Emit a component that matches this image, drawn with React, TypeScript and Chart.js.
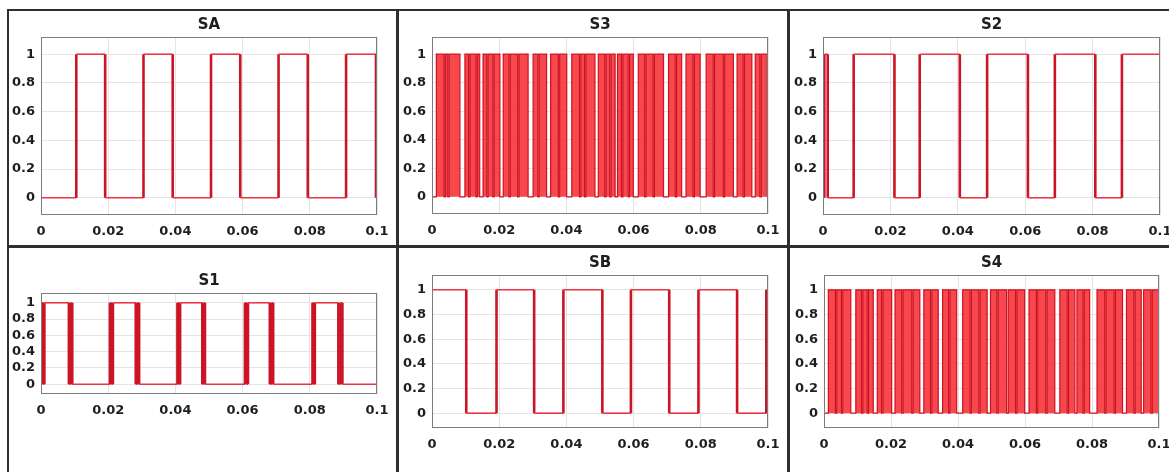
import React, { useEffect, useRef } from "react";
import { Chart, registerables } from "chart.js";

Chart.register(...registerables);

// ---------- axis data ----------
const xTicks = [0, 0.02, 0.04, 0.06, 0.08, 0.1];
const xTickLabels = ["0", "0.02", "0.04", "0.06", "0.08", "0.1"];
const yTicks = [0, 0.2, 0.4, 0.6, 0.8, 1];
const yTickLabels = ["0", "0.2", "0.4", "0.6", "0.8", "1"];
const xMin = 0;
const xMax = 0.1;
const yMin = -0.12;
const yMax = 1.12;

// ---------- switching signals (initial level + toggle instants, s) ----------
const saStart = 0;
const saEdges = [0.0105, 0.0191, 0.0305, 0.0392, 0.0506, 0.0593, 0.0707, 0.0794, 0.0908, 0.0997];

const sbStart = 1;
const sbEdges = [0.0102, 0.0192, 0.0304, 0.0391, 0.0507, 0.0592, 0.0706, 0.0793, 0.0908, 0.0995];

const s2Start = 0;
const s2Edges = [0.0004, 0.0014, 0.0091, 0.0212, 0.0287, 0.0406, 0.0487, 0.0608, 0.0688, 0.0808, 0.0887];

const s1Start = 0;
const s1Edges = [
  0.0003, 0.0007, 0.001,
  0.0083, 0.0088, 0.0093,
  0.0205, 0.021, 0.0214,
  0.0282, 0.0287, 0.0292,
  0.0406, 0.041, 0.0414,
  0.048, 0.0484, 0.0488,
  0.0607, 0.0612, 0.0616,
  0.0681, 0.0686, 0.0691,
  0.0808, 0.0812, 0.0815,
  0.0885, 0.0891, 0.0897,
];

// high-frequency legs: [rise, fall] pulses
const s3Pulses = [
  [0.0013, 0.0036], [0.004, 0.0047], [0.0051, 0.0083],
  [0.0098, 0.0109], [0.0113, 0.0131], [0.0135, 0.0142],
  [0.0152, 0.0163], [0.0167, 0.0181], [0.0185, 0.0202],
  [0.0212, 0.0229], [0.0233, 0.0255], [0.0259, 0.0286],
  [0.0301, 0.0315], [0.0319, 0.0341],
  [0.0353, 0.0376], [0.038, 0.0401],
  [0.0416, 0.0439], [0.0443, 0.0454], [0.0458, 0.0485],
  [0.0495, 0.0514], [0.0518, 0.0529], [0.0533, 0.0545],
  [0.0552, 0.0564], [0.0568, 0.0584], [0.0588, 0.0599],
  [0.0614, 0.0633], [0.0637, 0.0658], [0.0662, 0.0689],
  [0.0704, 0.0724], [0.0728, 0.0743],
  [0.0756, 0.0777], [0.0781, 0.0798],
  [0.0816, 0.0837], [0.0841, 0.0867], [0.0871, 0.0897],
  [0.0908, 0.0926], [0.093, 0.0952],
  [0.0962, 0.0976], [0.098, 0.0998],
];

const s4Pulses = [
  [0.0013, 0.0034], [0.0038, 0.0052], [0.0056, 0.008],
  [0.0095, 0.0112], [0.0116, 0.0129], [0.0133, 0.0147],
  [0.0159, 0.0172], [0.0176, 0.0202],
  [0.0212, 0.0232], [0.0236, 0.0262], [0.0266, 0.0286],
  [0.0298, 0.0318], [0.0322, 0.0341],
  [0.0354, 0.0372], [0.0376, 0.0396],
  [0.0414, 0.0436], [0.044, 0.0462], [0.0466, 0.0487],
  [0.0497, 0.0516], [0.052, 0.0545],
  [0.055, 0.0572], [0.0576, 0.0599],
  [0.0612, 0.0634], [0.0638, 0.0662], [0.0666, 0.0689],
  [0.0704, 0.0726], [0.073, 0.0749],
  [0.0755, 0.0773], [0.0777, 0.0793],
  [0.0815, 0.0838], [0.0842, 0.0866], [0.087, 0.0891],
  [0.0903, 0.0925], [0.0929, 0.0947],
  [0.0954, 0.0976], [0.098, 0.1],
];

// ---------- helpers ----------
type Pt = { x: number; y: number };

function edgesToPoints(start: number, edges: number[]): Pt[] {
  const pts: Pt[] = [{ x: xMin, y: start }];
  let lvl = start;
  for (const t of edges) {
    pts.push({ x: t, y: lvl });
    lvl = 1 - lvl;
    pts.push({ x: t, y: lvl });
  }
  pts.push({ x: xMax, y: lvl });
  return pts;
}

function pulsesToEdges(pulses: number[][]): number[] {
  const e: number[] = [];
  pulses.forEach(([a, b]) => {
    e.push(a);
    if (b < xMax) e.push(b);
  });
  return e;
}

const FONT = '"DejaVu Sans", "Liberation Sans", sans-serif';
const TEXT = "#1e1e1e";

type PanelCfg = {
  title: string;
  points: Pt[];
  dense: boolean;
  plot: { l: number; t: number; r: number; b: number };
};

const panels: PanelCfg[] = [
  { title: "SA", points: edgesToPoints(saStart, saEdges), dense: false, plot: { l: 41, t: 37, r: 377, b: 215 } },
  { title: "S3", points: edgesToPoints(0, pulsesToEdges(s3Pulses)), dense: true, plot: { l: 432, t: 37, r: 768, b: 214 } },
  { title: "S2", points: edgesToPoints(s2Start, s2Edges), dense: false, plot: { l: 823, t: 37, r: 1160, b: 215 } },
  { title: "S1", points: edgesToPoints(s1Start, s1Edges), dense: false, plot: { l: 41, t: 293, r: 377, b: 394 } },
  { title: "SB", points: edgesToPoints(sbStart, sbEdges), dense: false, plot: { l: 432, t: 275, r: 768, b: 428 } },
  { title: "S4", points: edgesToPoints(0, pulsesToEdges(s4Pulses)), dense: true, plot: { l: 824, t: 275, r: 1159, b: 428 } },
];

const PAD_L = 45;
const PAD_T = 30;
const PAD_R = 30;
const PAD_B = 40;

function Panel({ cfg }: { cfg: PanelCfg }) {
  const ref = useRef<HTMLCanvasElement | null>(null);
  const w = cfg.plot.r - cfg.plot.l + PAD_L + PAD_R;
  const h = cfg.plot.b - cfg.plot.t + PAD_T + PAD_B;

  useEffect(() => {
    if (!ref.current) return;
    const titlePlugin = {
      id: "panelTitle",
      afterDraw(chart: any) {
        const { ctx, chartArea } = chart;
        ctx.save();
        ctx.strokeStyle = "#7d7d7d";
        ctx.lineWidth = 1;
        ctx.strokeRect(
          Math.round(chartArea.left) + 0.5,
          Math.round(chartArea.top) + 0.5,
          Math.round(chartArea.right - chartArea.left) - 1,
          Math.round(chartArea.bottom - chartArea.top) - 1
        );
        ctx.font = `bold 15px ${FONT}`;
        ctx.fillStyle = TEXT;
        ctx.textAlign = "center";
        ctx.textBaseline = "middle";
        ctx.fillText(cfg.title, (chartArea.left + chartArea.right) / 2, chartArea.top - 12);
        ctx.restore();
      },
    };

    const vertical = (c: any) => c.p0.parsed.x === c.p1.parsed.x;
    const chart = new Chart(ref.current, {
      type: "line",
      data: {
        datasets: [
          {
            data: cfg.points,
            borderColor: cfg.dense ? "#cf1020" : "#e52a38",
            borderWidth: cfg.dense ? 1.2 : 1.6,
            backgroundColor: "rgba(246,48,52,0.88)",
            fill: cfg.dense ? "origin" : false,
            pointRadius: 0,
            tension: 0,
            segment: cfg.dense
              ? undefined
              : {
                  borderWidth: (c: any) => (vertical(c) ? 2.6 : 1.6),
                  borderColor: (c: any) => (vertical(c) ? "#cc1426" : "#ea3644"),
                },
          } as any,
        ],
      },
      options: {
        animation: false,
        responsive: false,
        maintainAspectRatio: false,
        devicePixelRatio: 1,
        events: [],
        layout: { padding: { left: 0, top: PAD_T, right: PAD_R, bottom: 0 } },
        plugins: { legend: { display: false }, tooltip: { enabled: false }, title: { display: false } },
        scales: {
          x: {
            type: "linear",
            min: xMin,
            max: xMax,
            afterBuildTicks: (s: any) => {
              s.ticks = xTicks.map((v) => ({ value: v }));
            },
            afterFit: (s: any) => {
              s.height = PAD_B;
            },
            ticks: {
              autoSkip: false,
              maxRotation: 0,
              padding: 9,
              color: TEXT,
              font: { family: FONT, size: 13, weight: "bold" },
              callback: (v: any) => {
                const i = xTicks.findIndex((t) => Math.abs(t - Number(v)) < 1e-9);
                return i >= 0 ? xTickLabels[i] : "";
              },
            },
            grid: { color: "#e4e4e4", lineWidth: 1, drawTicks: false },
            border: { display: false },
          },
          y: {
            type: "linear",
            min: yMin,
            max: yMax,
            afterBuildTicks: (s: any) => {
              s.ticks = yTicks.map((v) => ({ value: v }));
            },
            afterFit: (s: any) => {
              s.width = PAD_L;
            },
            ticks: {
              autoSkip: false,
              padding: 6,
              color: TEXT,
              font: { family: FONT, size: 13, weight: "bold" },
              callback: (v: any) => {
                const i = yTicks.findIndex((t) => Math.abs(t - Number(v)) < 1e-9);
                return i >= 0 ? yTickLabels[i] : "";
              },
            },
            grid: { color: "#e4e4e4", lineWidth: 1, drawTicks: false },
            border: { display: false },
          },
        },
      } as any,
      plugins: [titlePlugin],
    });
    return () => chart.destroy();
  }, [cfg]);

  return (
    <canvas
      ref={ref}
      width={w}
      height={h}
      style={{
        position: "absolute",
        left: cfg.plot.l - PAD_L,
        top: cfg.plot.t - PAD_T,
        width: w,
        height: h,
      }}
    />
  );
}

const lineStyle = (l: number, t: number, w: number, h: number): React.CSSProperties => ({
  position: "absolute",
  left: l,
  top: t,
  width: w,
  height: h,
  background: "#2e2e2e",
});

export default function App() {
  return (
    <div
      style={{
        position: "absolute",
        left: 0,
        top: 0,
        width: 1169,
        height: 472,
        overflow: "hidden",
        background: "#ffffff",
      }}
    >
      {panels.map((p) => (
        <Panel key={p.title} cfg={p} />
      ))}
      <div style={lineStyle(7, 9, 1162, 2)} />
      <div style={lineStyle(7, 9, 2, 463)} />
      <div style={lineStyle(7, 245, 1162, 3)} />
      <div style={lineStyle(396, 9, 3, 463)} />
      <div style={lineStyle(787, 9, 3, 463)} />
    </div>
  );
}
